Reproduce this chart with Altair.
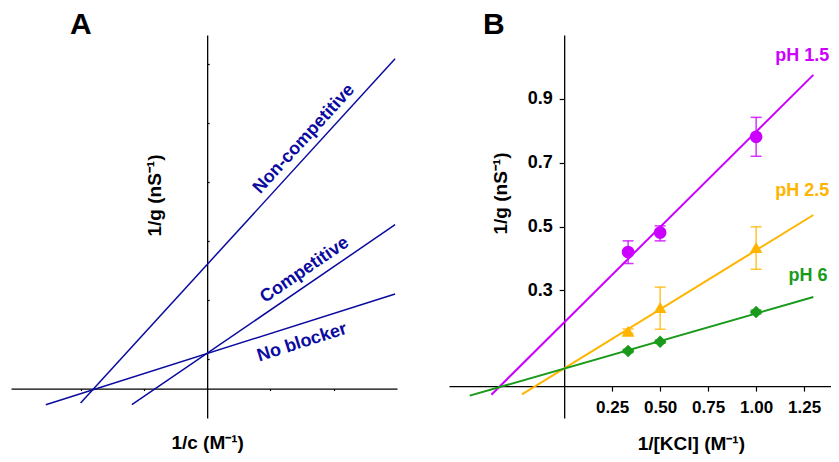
import altair as alt
import pandas as pd

FONT = "Liberation Sans"

# ---------------- Panel A (theoretical double-reciprocal lines) ----------------
a_names = ["No blocker", "Competitive", "Non-competitive"]
a_x0 = [-2.55, -1.19, -2.00]
a_y0 = [-0.55, -0.55, -0.49]
a_x1 = [2.97, 2.97, 2.97]
a_y1 = [3.21, 5.56, 11.19]
a_lab_x = [1.50, 1.54, 1.53]
a_lab_y = [1.56, 4.02, 8.47]
a_lab_angle = [342.4, 325.6, 312.4]
a_xticks = [-2, -1, 1, 2]
a_yticks = [1, 2, 3, 4, 5, 6, 7, 8, 9, 10, 11, 12]

# ---------------- Panel B (measured data) ----------------
b_series = ["pH 1.5", "pH 2.5", "pH 6"]
b_colors = ["#cc00ff", "#ffb400", "#1a9a1a"]
b_shapes = ["circle", "triangle-up", "diamond"]
b_x = [0.333, 0.5, 1.0]
b_y_15 = [0.420, 0.481, 0.781]
b_lo_15 = [0.384, 0.455, 0.720]
b_hi_15 = [0.455, 0.502, 0.842]
b_y_25 = [0.172, 0.246, 0.434]
b_lo_25 = [0.165, 0.178, 0.366]
b_hi_25 = [0.179, 0.310, 0.499]
b_y_6 = [0.110, 0.139, 0.232]
b_lo_6 = [0.105, 0.134, 0.226]
b_hi_6 = [0.115, 0.144, 0.238]
# fitted lines (end points)
b_fit_x0 = [-0.379, -0.220, -0.492]
b_fit_y0 = [-0.027, -0.026, -0.030]
b_fit_x1 = [1.298, 1.298, 1.298]
b_fit_y1 = [0.975, 0.536, 0.279]
b_lab_x = [1.100, 1.100, 1.168]
b_lab_y = [1.034, 0.611, 0.345]
b_xticks = [0.25, 0.5, 0.75, 1.0, 1.25]
b_yticks = [0.3, 0.5, 0.7, 0.9]

# ---------- build tables ----------
dfA = pd.DataFrame({"name": a_names, "x0": a_x0, "y0": a_y0, "x1": a_x1, "y1": a_y1,
                    "lx": a_lab_x, "ly": a_lab_y, "ang": a_lab_angle})

rows = []
for s, ys, lo, hi in zip(b_series, [b_y_15, b_y_25, b_y_6], [b_lo_15, b_lo_25, b_lo_6],
                         [b_hi_15, b_hi_25, b_hi_6]):
    for xv, yv, l, h in zip(b_x, ys, lo, hi):
        rows.append({"series": s, "x": xv, "y": yv, "lo": l, "hi": h})
dfB = pd.DataFrame(rows)
dfFit = pd.DataFrame({"series": b_series, "x0": b_fit_x0, "y0": b_fit_y0,
                      "x1": b_fit_x1, "y1": b_fit_y1, "lx": b_lab_x, "ly": b_lab_y})

BLUE = "#0a0aa0"

# ---------- Panel A ----------
WA, HA = 386, 383
xdomA = [-3.1, 3.0]
ydomA = [-1.0, 12.0]
zeroxA = (0 - xdomA[0]) / (xdomA[1] - xdomA[0]) * WA
zeroyA = (ydomA[1] - 0) / (ydomA[1] - ydomA[0]) * HA

xA = alt.X("x0:Q", scale=alt.Scale(domain=xdomA, nice=False, zero=False),
           axis=alt.Axis(orient="bottom", offset=-(HA - zeroyA), values=a_xticks, labels=False,
                         tickSize=2, title="1/c (M⁻¹)", titleX=zeroxA, titleY=54,
                         titleBaseline="middle", titleAlign="center"))
yA = alt.Y("y0:Q", scale=alt.Scale(domain=ydomA, nice=False, zero=False),
           axis=alt.Axis(orient="right", offset=-(WA - zeroxA), values=a_yticks, labels=False,
                         tickSize=2, title="1/g (nS⁻¹)", titleAngle=270, titleX=-52.5, titleY=160,
                         titleBaseline="middle", titleAlign="center"))

linesA = alt.Chart(dfA).mark_rule(color=BLUE, strokeWidth=1.5).encode(
    x=xA, y=yA, x2="x1:Q", y2="y1:Q")
textA = alt.Chart(dfA).mark_text(font=FONT, fontWeight="bold", fontSize=18, color=BLUE,
                                 align="center", baseline="middle").encode(
    x=alt.X("lx:Q"), y=alt.Y("ly:Q"), text="name:N", angle=alt.Angle("ang:Q", scale=None))

panelA = alt.layer(linesA, textA).properties(
    width=WA, height=HA,
    title=alt.TitleParams("A", anchor="start", frame="group", dx=59, fontSize=30,
                          font=FONT, fontWeight="bold", offset=-5))

# ---------- Panel B ----------
WB, HB = 382, 383
xdomB = [-0.6, 1.39]
ydomB = [-0.1, 1.1]
zeroxB = (0 - xdomB[0]) / (xdomB[1] - xdomB[0]) * WB
zeroyB = (ydomB[1] - 0) / (ydomB[1] - ydomB[0]) * HB

color = alt.Color("series:N", scale=alt.Scale(domain=b_series, range=b_colors), legend=None)
shape = alt.Shape("series:N", scale=alt.Scale(domain=b_series, range=b_shapes), legend=None)

xB = alt.X("x0:Q", scale=alt.Scale(domain=xdomB, nice=False, zero=False),
           axis=alt.Axis(orient="bottom", offset=-(HB - zeroyB), values=b_xticks, format=".2f",
                         tickSize=5, labelPadding=8, labelFontSize=17,
                         title="1/[KCl] (M⁻¹)", titleX=241.8, titleY=57,
                         titleBaseline="middle", titleAlign="center"))
yB = alt.Y("y0:Q", scale=alt.Scale(domain=ydomB, nice=False, zero=False),
           axis=alt.Axis(orient="left", offset=-zeroxB, values=b_yticks, format=".1f",
                         tickSize=5, labelPadding=7, labelFontSize=18,
                         title="1/g (nS⁻¹)", titleAngle=270, titleX=-64, titleY=158,
                         titleBaseline="middle", titleAlign="center"))

fitB = alt.Chart(dfFit).mark_rule(strokeWidth=2).encode(
    x=xB, y=yB, x2="x1:Q", y2="y1:Q", color=color)
errB = alt.Chart(dfB).mark_rule(strokeWidth=1.5, opacity=0.8).encode(
    x="x:Q", y="lo:Q", y2="hi:Q", color=color)
capLo = alt.Chart(dfB).mark_tick(orient="horizontal", size=11, thickness=1.5, opacity=0.8).encode(
    x="x:Q", y="lo:Q", color=color)
capHi = alt.Chart(dfB).mark_tick(orient="horizontal", size=11, thickness=1.5, opacity=0.8).encode(
    x="x:Q", y="hi:Q", color=color)
ptsB = alt.Chart(dfB).mark_point(filled=True, opacity=1, size=160).encode(
    x="x:Q", y="y:Q", color=color, shape=shape)
labB = alt.Chart(dfFit).mark_text(font=FONT, fontWeight="bold", fontSize=18, align="left",
                                  baseline="middle").encode(
    x="lx:Q", y="ly:Q", text="series:N", color=color)

panelB = alt.layer(fitB, errB, capLo, capHi, ptsB, labB).properties(
    width=WB, height=HB,
    title=alt.TitleParams("B", anchor="start", frame="group", dx=34, fontSize=30,
                          font=FONT, fontWeight="bold", offset=-5))

chart = alt.hconcat(panelA, panelB, spacing=52).properties(
    padding={"left": 3, "top": 2, "right": 0, "bottom": 0}
).configure_view(stroke=None).configure_axis(
    grid=False, domainColor="black", tickColor="black", domainWidth=1.3, tickWidth=1.2,
    labelFont=FONT, labelFontWeight="bold", labelColor="black",
    titleFont=FONT, titleFontWeight="bold", titleFontSize=19, titleColor="black"
)

chart.save("out.html", embed_options={"renderer": "svg", "actions": False})
